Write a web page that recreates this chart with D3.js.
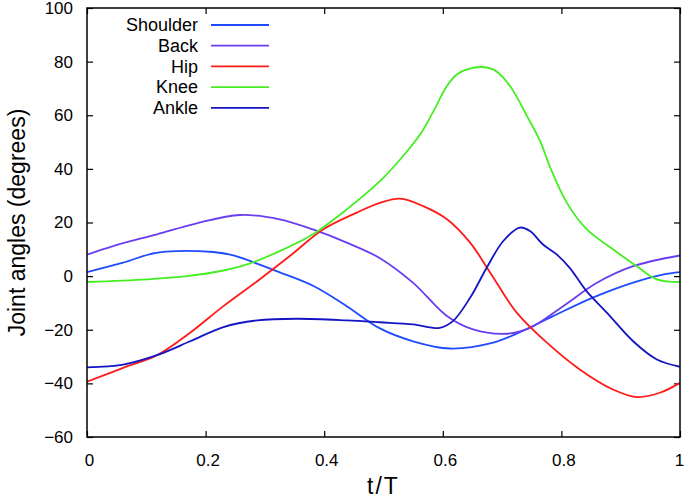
<!DOCTYPE html>
<html>
<head>
<meta charset="utf-8">
<script src="https://cdn.jsdelivr.net/npm/d3@7"></script>
<style>
  body { margin: 0; background: #fff; }
  svg { font-family: "Liberation Sans", Arial, sans-serif; }
  .axis path { display: none; }
  .axis line { stroke: #000; stroke-width: 1.2; }
  .axis text { font-size: 17px; fill: #000; }
</style>
</head>
<body>
<svg width="685" height="499"></svg>
<script>
// Data (t/T, degrees)
const shoulderT = [0, 0.061, 0.117, 0.213, 0.247, 0.325, 0.382, 0.438, 0.494, 0.55, 0.612, 0.685, 0.73, 0.786, 0.853, 0.921, 0.971, 1];
const shoulder  = [1.5, 5, 8.7, 9, 7.7, 1.4, -3.7, -11.2, -19.5, -24.3, -27, -24.8, -20.9, -14.9, -8, -2.4, 0.6, 1.5];

const backT = [0, 0.044, 0.118, 0.185, 0.258, 0.325, 0.381, 0.438, 0.494, 0.55, 0.607, 0.651, 0.708, 0.747, 0.803, 0.86, 0.921, 1];
const back  = [8, 11.2, 15.6, 19.7, 22.8, 21.2, 17.4, 12.5, 6.7, -2.5, -14.9, -19.9, -21.5, -19.3, -11.2, -2.5, 3.7, 7.7];

const hipT = [0, 0.061, 0.118, 0.174, 0.23, 0.287, 0.342, 0.398, 0.455, 0.494, 0.528, 0.567, 0.607, 0.646, 0.68, 0.725, 0.776, 0.831, 0.887, 0.927, 0.966, 1];
const hip  = [-39.4, -34.2, -29.5, -21.1, -11.2, -1.9, 7.5, 17.4, 23.7, 27.3, 28.9, 26.1, 21.2, 12.5, 1.3, -13.7, -24.9, -34.8, -42.3, -45.1, -43.5, -39.8];

const kneeT = [0, 0.101, 0.169, 0.23, 0.27, 0.325, 0.381, 0.438, 0.494, 0.528, 0.562, 0.583, 0.607, 0.624, 0.641, 0.666, 0.685, 0.702, 0.719, 0.742, 0.764, 0.781, 0.809, 0.843, 0.887, 0.927, 0.961, 1];
const knee  = [-2.2, -1.2, 0, 2.1, 4.4, 9.3, 15.6, 24.9, 35.4, 43.5, 52.9, 61, 70.9, 75.3, 77.1, 78, 77.1, 74, 69, 59.7, 50.4, 40.6, 27.4, 17.4, 10, 3.7, -1.2, -2.2];

const ankleT = [0, 0.061, 0.118, 0.174, 0.23, 0.287, 0.354, 0.438, 0.494, 0.55, 0.595, 0.617, 0.646, 0.674, 0.702, 0.73, 0.747, 0.769, 0.792, 0.814, 0.842, 0.877, 0.921, 0.961, 1];
const ankle  = [-34, -33, -29.5, -24.3, -19, -16.5, -15.9, -16.5, -17.2, -18, -19.3, -16.8, -8.1, 3.1, 13.1, 18.1, 16.8, 11.8, 8.1, 3.1, -5.5, -13.7, -24.3, -31.1, -33.8];

const seriesNames  = ["Shoulder", "Back", "Hip", "Knee", "Ankle"];
const seriesColors = ["#1f4bff", "#6a3cf2", "#ff1a1a", "#44ee22", "#1414c4"];
const xTicks = [0, 0.2, 0.4, 0.6, 0.8, 1];
const yTicks = [-60, -40, -20, 0, 20, 40, 60, 80, 100];

const series = [
  { name: seriesNames[0], t: shoulderT, v: shoulder, color: seriesColors[0] },
  { name: seriesNames[1], t: backT, v: back, color: seriesColors[1] },
  { name: seriesNames[2], t: hipT, v: hip, color: seriesColors[2] },
  { name: seriesNames[3], t: kneeT, v: knee, color: seriesColors[3] },
  { name: seriesNames[4], t: ankleT, v: ankle, color: seriesColors[4] }
];

const svg = d3.select("svg");
const plotL = 87, plotR = 680, plotT = 8, plotB = 437;

const x = d3.scaleLinear().domain([0, 1]).range([plotL, plotR]);
const y = d3.scaleLinear().domain([-60, 100]).range([plotB, plotT]);

const fmt = d => d === 0 || d === 1 ? String(d) : d3.format(".1f")(d);

// axes with inward ticks, mirrored on top and right
svg.append("g").attr("class", "axis")
  .attr("transform", `translate(0,${plotB})`)
  .call(d3.axisBottom(x).tickValues(xTicks).tickSize(-6).tickPadding(17).tickFormat(fmt))
  .selectAll("text").attr("dx", d => d === 1 ? -1 : 2);
svg.append("g").attr("class", "axis")
  .attr("transform", `translate(0,${plotT})`)
  .call(d3.axisTop(x).tickValues(xTicks).tickSize(-6).tickFormat(""));
svg.append("g").attr("class", "axis")
  .attr("transform", `translate(${plotL},0)`)
  .call(d3.axisLeft(y).tickValues(yTicks).tickSize(-6).tickPadding(14));
svg.append("g").attr("class", "axis")
  .attr("transform", `translate(${plotR},0)`)
  .call(d3.axisRight(y).tickValues(yTicks).tickSize(-6).tickFormat(""));

svg.selectAll(".axis").attr("font-family", null).attr("font-size", null);

const line = d3.line()
  .x(d => x(d[0]))
  .y(d => y(d[1]))
  .curve(d3.curveCatmullRom.alpha(0.5));

svg.append("defs").append("clipPath").attr("id", "clip")
  .append("rect").attr("x", plotL).attr("y", plotT).attr("width", plotR - plotL).attr("height", plotB - plotT);

svg.append("g").attr("clip-path", "url(#clip)")
  .selectAll("path")
  .data(series)
  .join("path")
    .attr("fill", "none")
    .attr("stroke", d => d.color)
    .attr("stroke-width", 1.8)
    .attr("d", d => line(d.t.map((t, i) => [t, d.v[i]])));

// frame
svg.append("rect")
  .attr("x", plotL).attr("y", plotT)
  .attr("width", plotR - plotL).attr("height", plotB - plotT)
  .attr("fill", "none").attr("stroke", "#000").attr("stroke-width", 1.5);

// legend
const legend = svg.append("g");
series.forEach((s, i) => {
  const ly = 25 + i * 20.7;
  legend.append("text")
    .attr("x", 198).attr("y", ly)
    .attr("dy", "0.35em")
    .attr("text-anchor", "end")
    .attr("font-size", 18)
    .text(s.name);
  legend.append("line")
    .attr("x1", 211).attr("x2", 269)
    .attr("y1", ly).attr("y2", ly)
    .attr("stroke", s.color).attr("stroke-width", 1.8);
});

// axis titles
svg.append("text")
  .attr("x", (plotL + plotR) / 2).attr("y", 494)
  .attr("text-anchor", "middle")
  .attr("font-size", 23)
  .attr("letter-spacing", 2)
  .text("t/T");

svg.append("text")
  .attr("transform", `translate(17,${(plotT + plotB) / 2}) rotate(-90)`)
  .attr("dy", "0.35em")
  .attr("text-anchor", "middle")
  .attr("font-size", 23)
  .text("Joint angles (degrees)");
</script>
</body>
</html>
